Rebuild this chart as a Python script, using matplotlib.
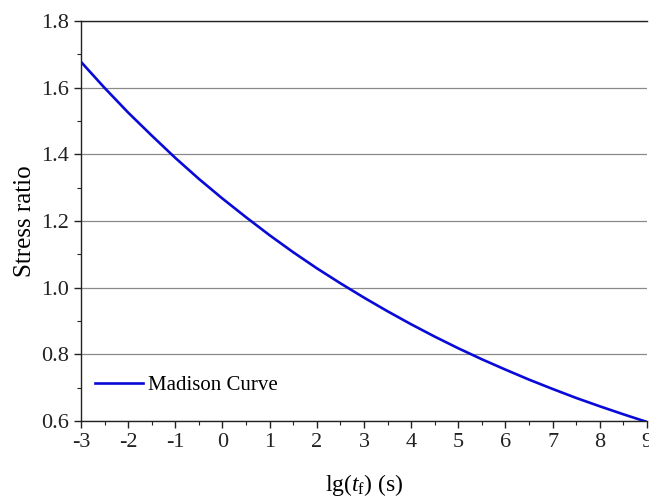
"""Madison curve: stress ratio vs. load duration."""

import matplotlib
matplotlib.use("Agg")
import matplotlib.pyplot as plt
from matplotlib.ticker import MultipleLocator, FormatStrFormatter

# lg(t_f) values and stress ratio
lg_tf = [-3, -2.5, -2, -1.5, -1, -0.5, 0, 0.5, 1, 1.5, 2, 2.5, 3,
         3.5, 4, 4.5, 5, 5.5, 6, 6.5, 7, 7.5, 8, 8.5, 9]
stress_ratio = [1.677, 1.599, 1.525, 1.456, 1.389, 1.326, 1.267, 1.211,
                1.157, 1.106, 1.058, 1.013, 0.970, 0.929, 0.890, 0.853,
                0.818, 0.785, 0.754, 0.724, 0.696, 0.669, 0.644, 0.620, 0.597]

plt.rcParams['font.family'] = ['Liberation Serif', 'DejaVu Serif']
plt.rcParams['mathtext.fontset'] = 'custom'
plt.rcParams['mathtext.rm'] = 'Liberation Serif'
plt.rcParams['mathtext.it'] = 'Liberation Serif:italic'
plt.rcParams['axes.unicode_minus'] = False

fig = plt.figure(figsize=(6.49, 4.97), dpi=100)
ax = fig.add_axes([0.1248, 0.153, 0.872, 0.805])

ax.plot(lg_tf, stress_ratio, color='#0a0ad8', linewidth=1.9, label='Madison Curve')

ax.set_xlim(-3, 9)
ax.set_ylim(0.6, 1.8)
ax.xaxis.set_major_locator(MultipleLocator(1))
ax.xaxis.set_minor_locator(MultipleLocator(0.5))
ax.yaxis.set_major_locator(MultipleLocator(0.2))
ax.yaxis.set_minor_locator(MultipleLocator(0.1))
ax.yaxis.set_major_formatter(FormatStrFormatter('%.1f'))

ax.grid(True, axis='y', which='major', color='#8a8a8a', linewidth=0.9)
ax.set_axisbelow(True)
ax.tick_params(which='both', direction='out', labelsize=16, colors='#222222')
ax.tick_params(which='major', length=5, width=1)
ax.tick_params(which='minor', length=3, width=0.8)

ax.spines['right'].set_visible(False)
for side in ['top', 'left', 'bottom']:
    ax.spines[side].set_color('#222222')
    ax.spines[side].set_linewidth(1.0)

ax.set_xlabel(r'lg($t_\mathrm{f}$) (s)', fontsize=17, labelpad=14.5)
ax.set_ylabel('Stress ratio', fontsize=18, labelpad=4)

ax.legend(loc='lower left', frameon=False, fontsize=15, handlelength=2.3,
          handletextpad=0.25, borderaxespad=0.5, bbox_to_anchor=(-0.009, 0.018))

plt.savefig('out.png', dpi=100)
plt.close()
